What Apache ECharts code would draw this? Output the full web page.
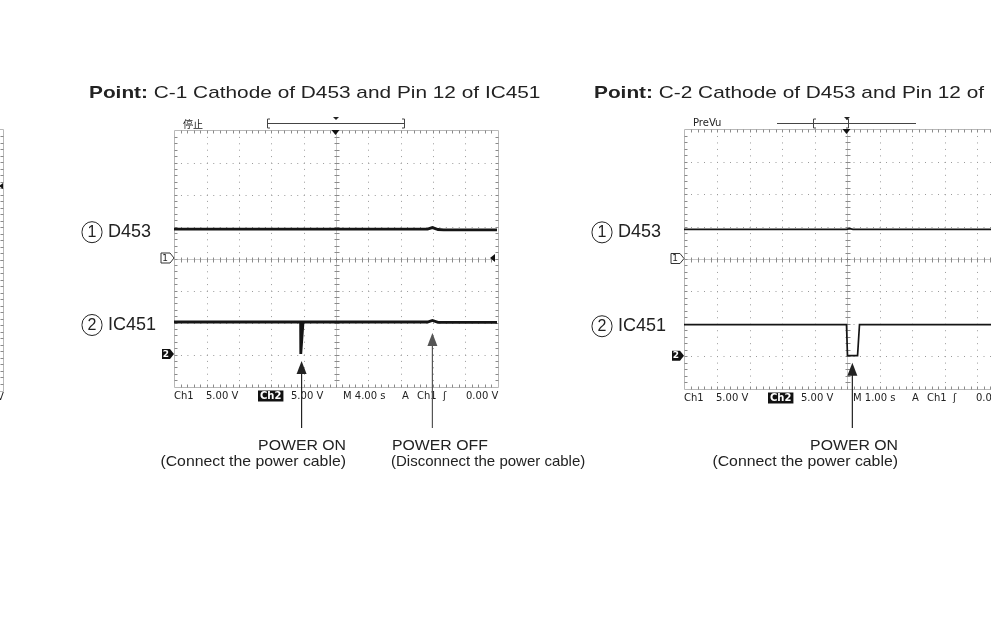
<!DOCTYPE html>
<html>
<head>
<meta charset="utf-8">
<script src="https://cdn.jsdelivr.net/npm/echarts@6/dist/echarts.min.js"></script>
<style>
  html, body { margin: 0; padding: 0; background: #fff; }
  #main { width: 991px; height: 624px; }
</style>
</head>
<body>
<div id="main"></div>
<script>
// both channels run at 5.00 V/div; grounds in divisions from centre
const voltsPerDiv = 5
const ch1GroundDiv = 0
const ch2GroundDiv = -3

// C-1 (M 4.00 s/div), time in s from trigger
const c1Ch1Time = [-20, 11.4, 12.0, 12.7, 13.4, 20]
const c1Ch1Volt = [4.5, 4.5, 4.75, 4.45, 4.4, 4.4]
const c1Ch2Time = [-20, -4.32, -4.3, -4.1, -4.02, 11.4, 12.0, 12.7, 13.4, 20]
const c1Ch2Volt = [5.0, 5.0, 0, 0, 5.0, 5.0, 5.25, 4.95, 4.95, 4.95]

// C-2 (M 1.00 s/div)
const c2Ch1Time = [-5, 0, 0.1, 0.2, 5]
const c2Ch1Volt = [4.5, 4.5, 4.6, 4.5, 4.5]
const c2Ch2Time = [-5, 0.0, 0.03, 0.34, 0.4, 5]
const c2Ch2Volt = [4.8, 4.8, 0, 0, 4.8, 4.8]

// event times marked with arrows
const c1PowerOnTime = -4.2
const c1PowerOffTime = 12.0
const c2PowerOnTime = 0.18

// readouts under each screen
const c1Readout = ['Ch1', '5.00 V', 'Ch2', '5.00 V', 'M 4.00 s', 'A', 'Ch1', 'ʃ', '0.00 V']
const c2Readout = ['Ch1', '5.00 V', 'Ch2', '5.00 V', 'M 1.00 s', 'A', 'Ch1', 'ʃ', '0.00 V']
const triggerLevelVolt = 0
const prevTriggerLevelDiv = 2.25

const toDiv = (v, ground) => v / voltsPerDiv + ground
const pairs = (t, v, ground) => t.map((x, i) => [x, toDiv(v[i], ground)])

const chart = echarts.init(document.getElementById('main'))

// screens: seconds per division, left time of the full screen, grid box
// (screens that run off the page only get the visible part as a grid)
const screens = [
  { spd: 4, t0: -20, grid: { left: 0, top: 129, width: 3, height: 261 } },
  { spd: 4, t0: -20, grid: { left: 174, top: 130, width: 323, height: 256 } },
  { spd: 1, t0: -5, grid: { left: 684, top: 129, width: 307, height: 259 } }
]
// visible time range of each grid
const xRange = [
  [20 - 3 / 32.3 * 4, 20],
  [-20, 20],
  [-5, -5 + 307 / 32.5]
]

const graticule = (spd, t0) => (params, api) => {
  const o = api.coord([t0, 4])
  const s = api.size([spd, 1])
  const dx = s[0]
  const dy = s[1]
  const x = Math.round(o[0]) + 0.5
  const y = Math.round(o[1]) + 0.5
  const w = 10 * dx
  const h = 8 * dy
  const kids = []
  const ln = (x1, y1, x2, y2, style) =>
    kids.push({ type: 'line', shape: { x1, y1, x2, y2 }, style })
  const dotted = { stroke: '#9a9a9a', lineWidth: 1, lineDash: [1, dx / 5 - 1] }
  const dottedV = { stroke: '#9a9a9a', lineWidth: 1, lineDash: [1, dy / 5 - 1] }
  const tick = { stroke: '#8a8a8a', lineWidth: 1 }
  const edge = { stroke: '#b8b8b8', lineWidth: 1 }
  for (let i = 1; i < 10; i++) {
    if (i === 5) continue
    const px = Math.round(x + i * dx) + 0.5
    ln(px, y, px, y + h, dottedV)
  }
  for (let j = 1; j < 8; j++) {
    if (j === 4) continue
    const py = Math.round(y + j * dy) + 0.5
    ln(x, py, x + w, py, dotted)
  }
  const cx = Math.round(x + 5 * dx) + 0.5
  const cy = Math.round(y + 4 * dy) + 0.5
  ln(cx, y, cx, y + h, { stroke: '#c8c8c8', lineWidth: 1 })
  ln(x, cy, x + w, cy, { stroke: '#c8c8c8', lineWidth: 1 })
  const xr = Math.round(x + w) + 0.5
  const yb = Math.round(y + h) + 0.5
  ln(x, y, xr, y, edge)
  ln(x, yb, xr, yb, edge)
  ln(x, y, x, yb, edge)
  ln(xr, y, xr, yb, edge)
  for (let k = 1; k < 50; k++) {
    const px = Math.round(x + k * dx / 5) + 0.5
    ln(px, y, px, y + 3, tick)
    ln(px, yb - 3, px, yb, tick)
    ln(px, cy - 2, px, cy + 3, tick)
  }
  for (let k = 1; k < 40; k++) {
    const py = Math.round(y + k * dy / 5) + 0.5
    ln(x, py, x + 3, py, tick)
    ln(xr - 3, py, xr, py, tick)
    ln(cx - 2, py, cx + 3, py, tick)
  }
  return { type: 'group', children: kids }
}

const series = []
screens.forEach((sc, i) => {
  series.push({
    type: 'custom', xAxisIndex: i, yAxisIndex: i, silent: true, z: 1, clip: false,
    renderItem: graticule(sc.spd, sc.t0), data: [[xRange[i][1], 0]]
  })
})
const trace = (i, data, width) => ({
  type: 'line', xAxisIndex: i, yAxisIndex: i, data, showSymbol: false,
  silent: true, z: 5, clip: true,
  lineStyle: { color: '#151515', width, join: 'miter' }
})
series.push(trace(1, pairs(c1Ch1Time, c1Ch1Volt, ch1GroundDiv), 2.8))
series.push(trace(1, pairs(c1Ch2Time, c1Ch2Volt, ch2GroundDiv), 2.8))
series.push(trace(2, pairs(c2Ch1Time, c2Ch1Volt, ch1GroundDiv), 1.7))
series.push(trace(2, pairs(c2Ch2Time, c2Ch2Volt, ch2GroundDiv), 1.7))

chart.setOption({
  animation: false,
  grid: screens.map(sc => Object.assign({ containLabel: false, show: false }, sc.grid)),
  xAxis: screens.map((sc, i) => ({ type: 'value', gridIndex: i, min: xRange[i][0], max: xRange[i][1], show: false })),
  yAxis: screens.map((sc, i) => ({ type: 'value', gridIndex: i, min: -4, max: 4, show: false })),
  series
})

// ---- annotations placed from the axes ----
const px = (i, x, y) => chart.convertToPixel({ gridIndex: i }, [x, y])
const sans = '"Liberation Sans", Arial, sans-serif'
const tek = '"DejaVu Sans", sans-serif'
const g = []
const text = (x, y, t, opt, sx) => g.push({
  type: 'text', z: 20, x, y, scaleX: sx || 1,
  style: Object.assign({ text: t, fill: '#222', font: '18px ' + sans, verticalAlign: 'middle' }, opt || {})
})
const poly = (points, style) => g.push({ type: 'polygon', z: 20, shape: { points }, style })
const seg = (x1, y1, x2, y2, style) => g.push({ type: 'line', z: 20, shape: { x1, y1, x2, y2 }, style })

// titles
const titleRich = { b: { font: 'bold 17px ' + sans, fill: '#222' } }
text(89, 93, '{b|Point:} C-1 Cathode of D453 and Pin 12 of IC451', { font: '17px ' + sans, rich: titleRich }, 1.225)
text(594, 93, '{b|Point:} C-2 Cathode of D453 and Pin 12 of IC451', { font: '17px ' + sans, rich: titleRich }, 1.225)

// channel captions with circled numbers
const circ = {
  c: { width: 20, height: 20, borderRadius: 11, borderColor: '#222', borderWidth: 1, align: 'center', font: '16px ' + sans, fill: '#222', padding: [1, 0, 0, 0] },
  t: { font: '18px ' + sans, fill: '#222', padding: [0, 0, 0, 6] }
}
;[[82, 1], [592, 2]].forEach(([lx, gi]) => {
  const a = px(gi, 0, toDiv(4.5, ch1GroundDiv))
  const b = px(gi, 0, toDiv(5, ch2GroundDiv))
  text(lx, a[1] + 3, '{c|1}{t|D453}', { rich: circ })
  text(lx, b[1] + 3, '{c|2}{t|IC451}', { rich: circ })
})

// ground markers and trigger markers
;[1, 2].forEach(gi => {
  const c1 = px(gi, xRange[gi][0], ch1GroundDiv)
  const c2 = px(gi, xRange[gi][0], ch2GroundDiv)
  const bx = c1[0]
  poly([[bx - 13, c1[1] - 5], [bx - 4, c1[1] - 5], [bx, c1[1]], [bx - 4, c1[1] + 5], [bx - 13, c1[1] + 5]],
    { fill: '#fff', stroke: '#333', lineWidth: 1 })
  text(bx - 9, c1[1] + 0.5, '1', { font: '9px ' + tek, align: 'center' })
  poly([[bx - 12, c2[1] - 5], [bx - 4, c2[1] - 5], [bx, c2[1]], [bx - 4, c2[1] + 5], [bx - 12, c2[1] + 5]],
    { fill: '#111' })
  text(bx - 8, c2[1] + 0.5, '2', { font: 'bold 9px ' + tek, align: 'center', fill: '#fff' })
  const tp = px(gi, 0, 4)
  poly([[tp[0] - 4, tp[1]], [tp[0] + 4, tp[1]], [tp[0], tp[1] + 5]], { fill: '#111' })
})
const lv = px(1, 20, toDiv(triggerLevelVolt, ch1GroundDiv))
poly([[lv[0] - 7, lv[1]], [lv[0] - 2, lv[1] - 4], [lv[0] - 2, lv[1] + 4]], { fill: '#111' })
// trigger level of the screen cut off at the left edge
const pl = px(0, xRange[0][1], prevTriggerLevelDiv)
poly([[pl[0] - 4, pl[1]], [pl[0], pl[1] - 3], [pl[0], pl[1] + 3]], { fill: '#111' })
text(pl[0] - 6, 397, 'V', { font: '10px ' + tek })

// status text and record window bars
text(183, 124, '停止', { font: '10px "Noto Sans CJK JP", sans-serif' })
text(693, 123, 'PreVu', { font: '10px ' + tek })
const bar = { stroke: '#444', lineWidth: 1 }
seg(268, 123.5, 405, 123.5, bar)
seg(267.5, 119, 267.5, 128, bar); seg(267.5, 119, 270, 119, bar); seg(267.5, 128, 270, 128, bar)
seg(404.5, 119, 404.5, 128, bar); seg(404.5, 119, 402, 119, bar); seg(404.5, 128, 402, 128, bar)
poly([[333, 117], [339, 117], [336, 120]], { fill: '#222' })
seg(777, 123.5, 916, 123.5, bar)
seg(813.5, 119, 813.5, 128, bar); seg(813.5, 119, 816, 119, bar); seg(813.5, 128, 816, 128, bar)
seg(848.5, 119, 848.5, 128, bar); seg(848.5, 119, 846, 119, bar); seg(848.5, 128, 846, 128, bar)
poly([[844, 117], [850, 117], [847, 120]], { fill: '#222' })

// readouts
const readoutX = [0, 32, 84, 117, 169, 228, 243, 269, 292]
;[[1, c1Readout], [2, c2Readout]].forEach(([gi, labels]) => {
  const r = screens[gi].grid
  const y = r.top + r.height + 10
  labels.forEach((t, k) => {
    const opt = { font: '10px ' + tek, fill: '#222' }
    if (k === 2) Object.assign(opt, { backgroundColor: '#111', fill: '#fff', padding: [1, 2, 0, 2], font: 'bold 10px ' + tek })
    text(r.left + readoutX[k], y, t, opt)
  })
})

// event arrows and captions
const arrow = (tip, endY, color) => {
  seg(tip[0], tip[1] + 10, tip[0], endY, { stroke: color, lineWidth: 1.2 })
  poly([[tip[0], tip[1]], [tip[0] - 5, tip[1] + 13], [tip[0] + 5, tip[1] + 13]], { fill: color })
}
const on1 = px(1, c1PowerOnTime, toDiv(0, ch2GroundDiv))
arrow([on1[0], on1[1] + 7], 428, '#222')
const off1 = px(1, c1PowerOffTime, toDiv(5, ch2GroundDiv))
arrow([off1[0], off1[1] + 11], 428, '#555')
const on2 = px(2, c2PowerOnTime, toDiv(0, ch2GroundDiv))
arrow([on2[0], on2[1] + 7], 428, '#222')

const cap = { font: '15px ' + sans, fill: '#222' }
const sx = 1.055
text(346, 446, 'POWER ON', Object.assign({ align: 'right' }, cap), sx)
text(346, 462, '(Connect the power cable)', Object.assign({ align: 'right' }, cap), sx)
text(392, 446, 'POWER OFF', cap, sx)
text(391, 462, '(Disconnect the power cable)', cap)
text(898, 446, 'POWER ON', Object.assign({ align: 'right' }, cap), sx)
text(898, 462, '(Connect the power cable)', Object.assign({ align: 'right' }, cap), sx)

chart.setOption({ graphic: { elements: g } })
</script>
</body>
</html>
